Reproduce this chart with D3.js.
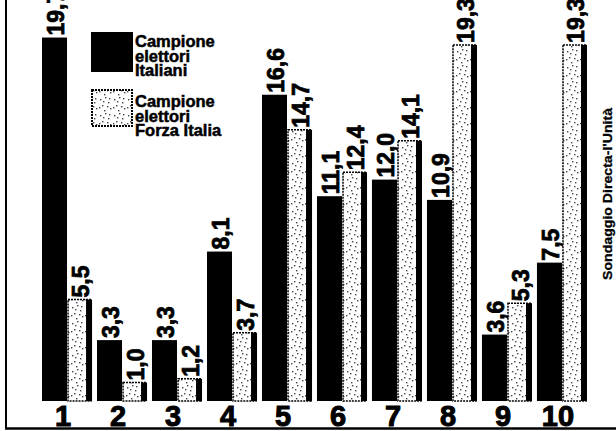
<!DOCTYPE html>
<html lang="it">
<head>
<meta charset="UTF-8">
<title>Sondaggio</title>
<script src="https://d3js.org/d3.v7.min.js"></script>
<style>
  body { margin: 0; background: #fff; }
  text { font-family: "Liberation Sans", Arial, sans-serif; font-weight: bold; fill: #000; stroke: #000; }
</style>
</head>
<body>
<div id="content"></div>
<script>
// data
const groups = ["1", "2", "3", "4", "5", "6", "7", "8", "9", "10"];
const seriesKeys = ["italiani", "forza"];
const italiani = [19.7, 3.3, 3.3, 8.1, 16.6, 11.1, 12.0, 10.9, 3.6, 7.5];
const forzaItalia = [5.5, 1.0, 1.2, 3.7, 14.7, 12.4, 14.1, 19.3, 5.3, 19.3];
const legendLabels = [["Campione", "elettori", "Italiani"], ["Campione", "elettori", "Forza Italia"]];
const sourceText = "Sondaggio Directa-l'Unità";

const width = 616, height = 431;

const svg = d3.select("#content").append("svg")
    .attr("width", width)
    .attr("height", height);

// speckled fill for the light bars
const defs = svg.append("defs");
const pat = defs.append("pattern")
    .attr("id", "speck")
    .attr("patternUnits", "userSpaceOnUse")
    .attr("width", 14).attr("height", 16);
pat.append("rect").attr("width", 14).attr("height", 16).attr("fill", "#fff");
[[2, 3], [7, 1], [10, 6], [4, 9], [12, 12], [6, 14], [1, 11], [9, 10], [5, 5], [11, 2]].forEach(p => {
    pat.append("rect").attr("x", p[0]).attr("y", p[1]).attr("width", 1.4).attr("height", 1.4).attr("fill", "#444");
});

const x0 = d3.scaleBand().domain(groups).range([42, 587]).paddingInner(0.09).paddingOuter(0);
const x1 = d3.scaleBand().domain(seriesKeys).range([0, x0.bandwidth()]);
const y = d3.scaleLinear().domain([0, 20]).range([401, 32]);

const fmt = v => v.toFixed(1).replace(".", ",");

const rows = groups.map((g, i) => ({ g, vals: [
    { key: "italiani", v: italiani[i] },
    { key: "forza", v: forzaItalia[i] }
] }));

const gGroup = svg.selectAll("g.grp")
    .data(rows).enter().append("g")
    .attr("class", "grp")
    .attr("transform", d => `translate(${x0(d.g)},0)`);

const bars = gGroup.selectAll("g.bar")
    .data(d => d.vals).enter().append("g").attr("class", "bar");

// black bars
bars.filter(d => d.key === "italiani").append("rect")
    .attr("x", d => x1(d.key))
    .attr("y", d => y(d.v))
    .attr("width", x1.bandwidth())
    .attr("height", d => y(0) - y(d.v))
    .attr("fill", "#000");

// light bars with a dark shadow on the right
const light = bars.filter(d => d.key === "forza");
light.append("rect")
    .attr("x", d => x1(d.key) + 1)
    .attr("y", d => y(d.v))
    .attr("width", x1.bandwidth() - 2)
    .attr("height", d => y(0) - y(d.v))
    .attr("fill", "url(#speck)")
    .attr("stroke", "#000")
    .attr("stroke-width", 1.5)
    .attr("stroke-dasharray", "2,1");
light.append("rect")
    .attr("x", d => x1(d.key) + x1.bandwidth() - 6)
    .attr("y", d => y(d.v))
    .attr("width", 6)
    .attr("height", d => y(0) - y(d.v))
    .attr("fill", "#000");

// value labels, rotated
bars.append("text")
    .attr("transform", d => `translate(${x1(d.key) + x1.bandwidth() - 3},${y(d.v) - 2}) rotate(-90)`)
    .style("font-size", "23px")
    .style("stroke-width", "0.8px")
    .text(d => fmt(d.v));

// category numbers under the bars
svg.selectAll("text.cat")
    .data(groups).enter().append("text")
    .attr("class", "cat")
    .attr("x", d => x0(d) + x0.bandwidth() / 2 - 4)
    .attr("y", 426)
    .attr("text-anchor", "middle")
    .style("font-size", "29px")
    .style("stroke-width", "1px")
    .text(d => d);

// legend
const legend = svg.append("g");
legend.append("rect").attr("x", 91).attr("y", 32).attr("width", 42).attr("height", 40).attr("fill", "#000");
legend.append("rect").attr("x", 92).attr("y", 90).attr("width", 40).attr("height", 36)
    .attr("fill", "url(#speck)").attr("stroke", "#000").attr("stroke-width", 2).attr("stroke-dasharray", "2,1");
legendLabels.forEach((lines, i) => {
    lines.forEach((line, j) => {
        legend.append("text")
            .attr("x", 135)
            .attr("y", (i === 0 ? 47 : 107) + j * 14.7)
            .style("font-size", "16.5px")
            .style("stroke-width", "0.5px")
            .text(line);
    });
});

// source, rotated
svg.append("text")
    .attr("transform", "translate(612,194) rotate(-90)")
    .attr("text-anchor", "middle")
    .attr("textLength", 172)
    .attr("lengthAdjust", "spacingAndGlyphs")
    .style("font-size", "13.5px")
    .style("stroke-width", "0.3px")
    .text(sourceText);

// frame lines (left and bottom)
svg.append("line").attr("x1", 6).attr("x2", 6).attr("y1", 0).attr("y2", 429)
    .attr("stroke", "#000").attr("stroke-width", 2);
svg.append("line").attr("x1", 5).attr("x2", 616).attr("y1", 428.5).attr("y2", 428.5)
    .attr("stroke", "#000").attr("stroke-width", 2.5);
</script>
</body>
</html>
